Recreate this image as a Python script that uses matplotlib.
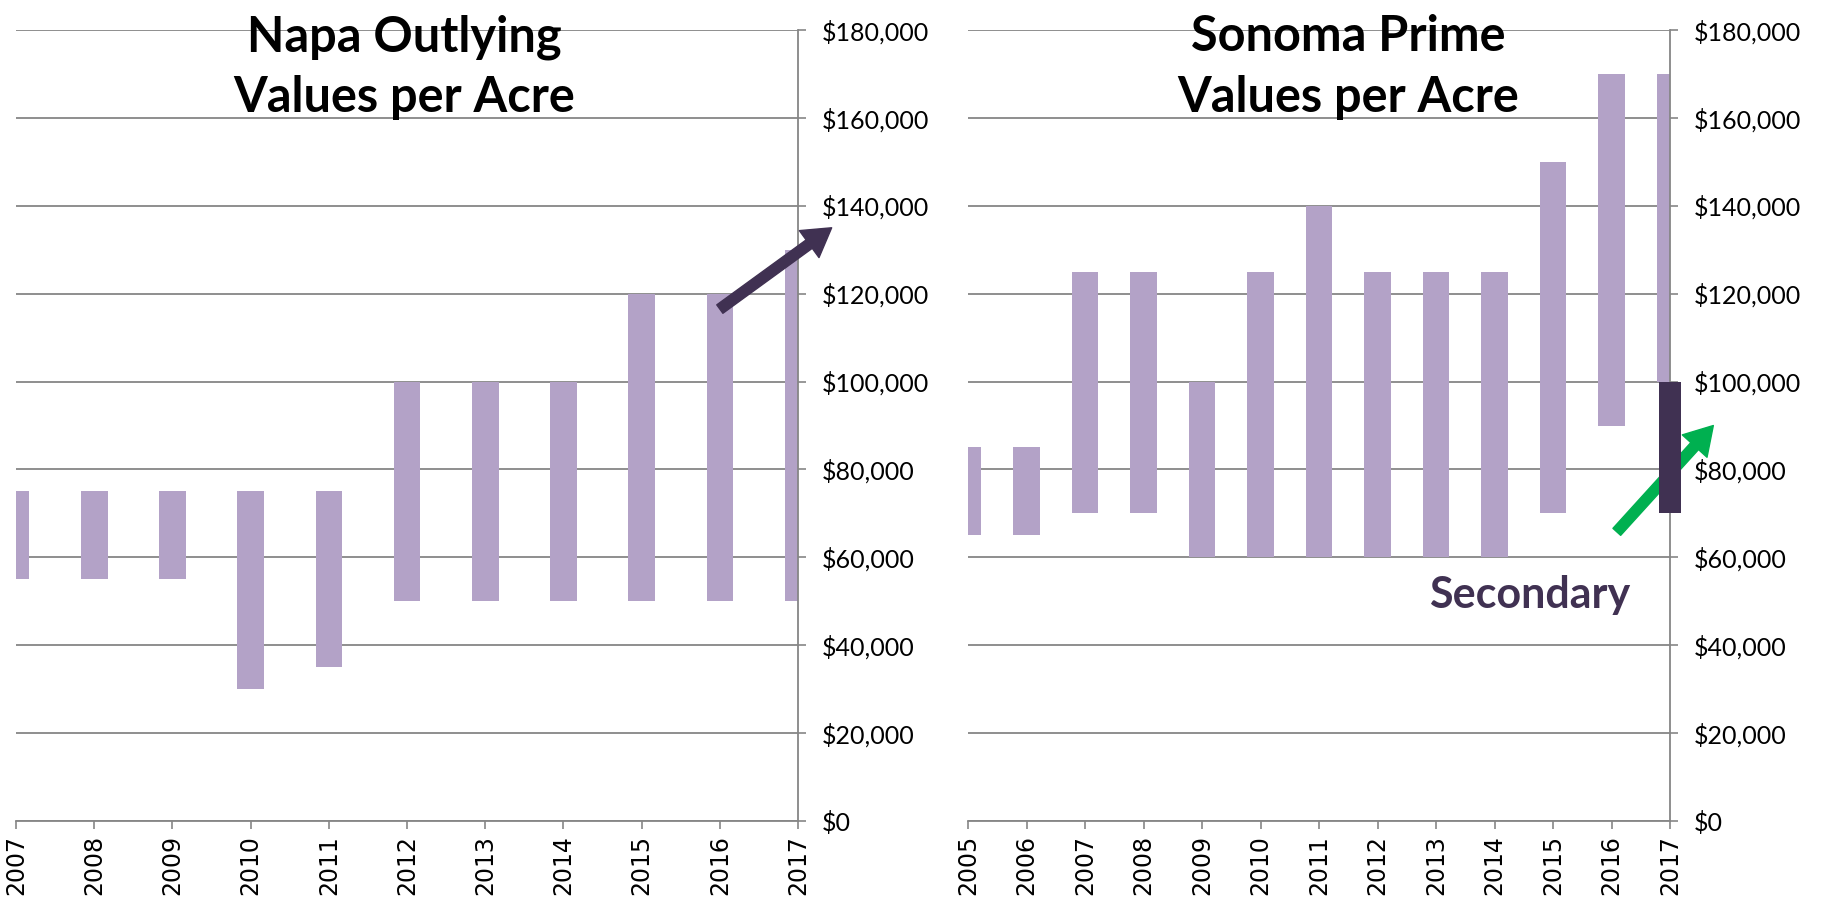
import matplotlib
matplotlib.use("Agg")
import matplotlib.pyplot as plt
import matplotlib.ticker as mplticker

#
# Data
#

napa_years = [2007, 2008, 2009, 2010, 2011, 2012, 2013, 2014, 2015, 2016, 2017]
napa_low = [55000, 55000, 55000, 30000, 35000, 50000, 50000, 50000, 50000, 50000, 50000]
napa_high = [75000, 75000, 75000, 75000, 75000, 100000, 100000, 100000, 120000, 120000, 130000]

sonoma_years = [2005, 2006, 2007, 2008, 2009, 2010, 2011, 2012, 2013, 2014, 2015, 2016, 2017]
sonoma_low = [65000, 65000, 70000, 70000, 60000, 60000, 60000, 60000, 60000, 60000, 70000, 90000, 100000]
sonoma_high = [85000, 85000, 125000, 125000, 100000, 125000, 140000, 125000, 125000, 125000, 150000, 170000, 170000]

# secondary range for Sonoma 2017
secondary_year = 2017
secondary_low = 70000
secondary_high = 100000

y_ticks = [0, 20000, 40000, 60000, 80000, 100000, 120000, 140000, 160000, 180000]

LIGHT = "#B3A2C7"
DARK = "#403152"
GREEN = "#00B050"
GRID = "#868686"

#
# Graph
#

fig = plt.figure(figsize=(18.22, 9.10), dpi=100)
ax_napa = fig.add_axes([0.0088, 0.0978, 0.4292, 0.8692])
ax_sonoma = fig.add_axes([0.5313, 0.0978, 0.3853, 0.8692])


def style_axes(ax, years, title_lines, title_x):
    ax.set_xlim(years[0], years[-1])
    ax.set_ylim(0, 180000)
    ax.set_xticks(years)
    ax.set_xticklabels([str(y) for y in years], rotation=90, fontsize=17, family="DejaVu Sans")
    ax.set_yticks(y_ticks)
    ax.yaxis.tick_right()
    ax.yaxis.set_major_formatter(mplticker.StrMethodFormatter("${x:,.0f}"))
    for label in ax.get_yticklabels():
        label.set_family("Lato")
        label.set_fontsize(18)
    ax.tick_params(axis="y", direction="out", length=6, width=1.2, color=GRID, pad=11)
    ax.tick_params(axis="x", direction="out", length=6, width=1.2, color=GRID, pad=4)
    ax.grid(axis="y", color=GRID, linewidth=1.3, zorder=0)
    ax.set_axisbelow(True)
    for side in ["top", "left"]:
        ax.spines[side].set_visible(False)
    for side in ["bottom", "right"]:
        ax.spines[side].set_color(GRID)
        ax.spines[side].set_linewidth(1.3)
    # two title lines placed on their own baselines
    for line, base_px in zip(title_lines, [51, 112]):
        fig.text(title_x, 1 - base_px / 910, line, ha="center", va="baseline", fontsize=35,
                 fontweight="bold", family="Lato")


napa_heights = [h - l for l, h in zip(napa_low, napa_high)]
ax_napa.bar(napa_years, napa_heights, bottom=napa_low, width=0.34, color=LIGHT, zorder=2)
style_axes(ax_napa, napa_years, ["Napa Outlying", "Values per Acre"], 404 / 1822)

sonoma_heights = [h - l for l, h in zip(sonoma_low, sonoma_high)]
ax_sonoma.bar(sonoma_years, sonoma_heights, bottom=sonoma_low, width=0.46, color=LIGHT, zorder=2)
ax_sonoma.bar(secondary_year, secondary_high - secondary_low, bottom=secondary_low, width=0.37,
              color=DARK, zorder=4, clip_on=False)
style_axes(ax_sonoma, sonoma_years, ["Sonoma Prime", "Values per Acre"], 1348 / 1822)

# arrows
ax_napa.annotate("", xy=(2017.43, 135000), xytext=(2016.0, 116500), annotation_clip=False,
                 arrowprops=dict(arrowstyle="simple,head_width=2.4,head_length=2.0,tail_width=0.75",
                                 mutation_scale=10, color=DARK, shrinkA=0, shrinkB=0))
ax_sonoma.annotate("", xy=(2017.74, 90000), xytext=(2016.09, 65800), annotation_clip=False,
                   arrowprops=dict(arrowstyle="simple,head_width=2.4,head_length=2.0,tail_width=0.75",
                                   mutation_scale=10, color=GREEN, shrinkA=0, shrinkB=0, zorder=6))

fig.text(1530 / 1822, 1 - 595 / 910, "Secondary", ha="center", va="center", fontsize=31,
         fontweight="bold", family="Lato", color=DARK)

fig.savefig("out.png", dpi=100, facecolor="white")
